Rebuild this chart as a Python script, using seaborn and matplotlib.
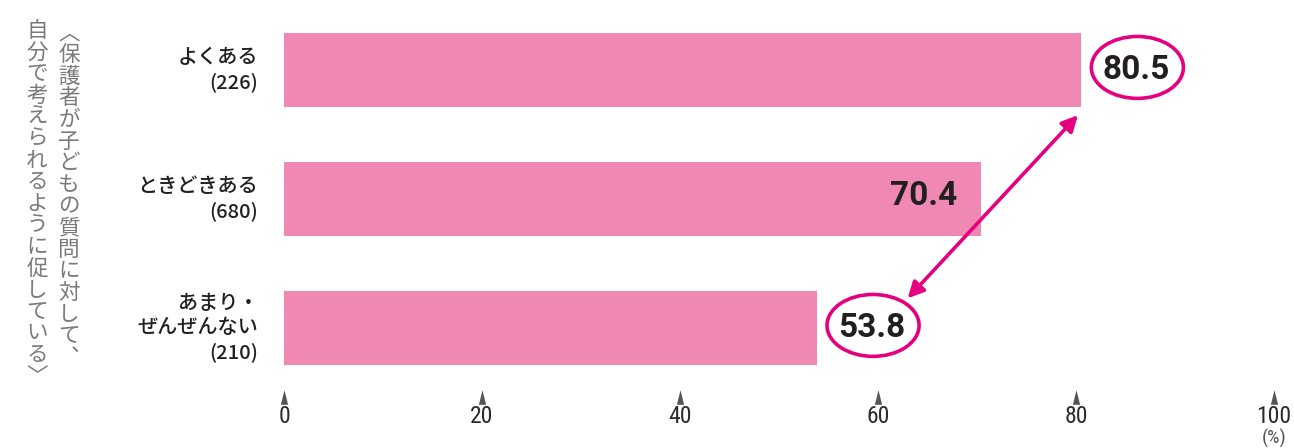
import numpy as np
import pandas as pd
import matplotlib
matplotlib.use("Agg")
import matplotlib.pyplot as plt
from matplotlib import font_manager
from matplotlib.patches import Ellipse
from matplotlib.path import Path
import seaborn as sns

categories = ["よくある\n(226)", "ときどきある\n(680)", "あまり・\nぜんぜんない\n(210)"]
values = [80.5, 70.4, 53.8]
circled = [True, False, True]
xticks = [0, 20, 40, 60, 80, 100]
# vertical-writing title, two columns read right to left
axis_title_right = "︿保護者が子どもの質問に対して︑"
axis_title_left = "自分で考えられるように促している﹀"

BAR = "#f088b4"
MAGENTA = "#e4007f"
DARK = "#231f20"
GREY = "#7a7a7a"

sns.set_theme(style="white")
plt.rcParams["font.family"] = ["Noto Sans CJK JP", "DejaVu Sans"]

names = {f.name for f in font_manager.fontManager.ttflist}
narrow = next((n for n in ["Liberation Sans Narrow", "Roboto Condensed", "Open Sans Condensed"] if n in names), "Roboto")

df = pd.DataFrame({"cat": categories, "val": values})

fig = plt.figure(figsize=(12.94, 4.48), dpi=100)
ax = fig.add_axes([284 / 1294, 1 - 392.5 / 448, 990 / 1294, 387 / 448])

sns.barplot(data=df, x="val", y="cat", color=BAR, saturation=1, width=0.58,
            orient="h", ax=ax, edgecolor="none")
ax.set_xlim(0, 100)
ax.set_ylim(2.5, -0.5)
for s in ax.spines.values():
    s.set_visible(False)
ax.set_xlabel("")
ax.set_ylabel("")
ax.set_yticks([])
ax.set_xticks([])

# value labels
for i, (v, c) in enumerate(zip(values, circled)):
    if c:
        cx = v + 5.7
        ax.add_patch(Ellipse((cx, i - 0.02), 9.3, 0.48, fill=False,
                             edgecolor=MAGENTA, lw=2.6, clip_on=False))
        ax.text(cx - 0.1, i, f"{v:.1f}", ha="center", va="center",
                fontsize=24, fontweight="bold", color=DARK, family="Roboto")
    else:
        ax.text(v - 2.4, i - 0.02, f"{v:.1f}", ha="right", va="center",
                fontsize=24, fontweight="bold", color=DARK, family="Roboto")

# comparison arrow between the first and last bars
ax.annotate("", xy=(values[0] - 0.3, 0.35), xytext=(values[2] + 9.2, 1.77),
            arrowprops=dict(arrowstyle="<|-|>", color=MAGENTA, lw=2.6,
                            mutation_scale=24, shrinkA=0, shrinkB=0))

# category labels
for i, lab in enumerate(categories):
    ax.text(-2.6, i, lab, ha="right", va="center", fontsize=14.5,
            color=DARK, linespacing=1.35, fontweight="medium")

# x ticks drawn as small triangles above the numbers
tri = Path([(-0.5, -1), (0.5, -1), (0, 1), (-0.5, -1)],
           [Path.MOVETO, Path.LINETO, Path.LINETO, Path.CLOSEPOLY])
trans = ax.get_xaxis_transform()
ax.scatter(xticks, [-(397 - 392.5) / 387] * len(xticks), marker=tri, s=110,
           color="#555555", transform=trans, clip_on=False, linewidths=0)
for t in xticks:
    ax.text(t, -(416 - 392.5) / 387, str(t), ha="center", va="center",
            fontsize=17, color="#2a2a2a", family=narrow, transform=trans)
ax.text(100, -(438 - 392.5) / 387, "(%)", ha="center", va="center",
        fontsize=14, color="#555555", family=narrow, transform=trans)

# vertical axis title, one character per position
pitch = 21.6
for k, ch in enumerate(axis_title_right):
    fig.text(69 / 1294, 1 - (33.5 + pitch * k) / 448, ch, ha="center", va="center",
             fontsize=15.5, color=GREY)
for k, ch in enumerate(axis_title_left):
    fig.text(37 / 1294, 1 - (31 + pitch * k) / 448, ch, ha="center", va="center",
             fontsize=15.5, color=GREY)

fig.savefig("out.png", dpi=100)
